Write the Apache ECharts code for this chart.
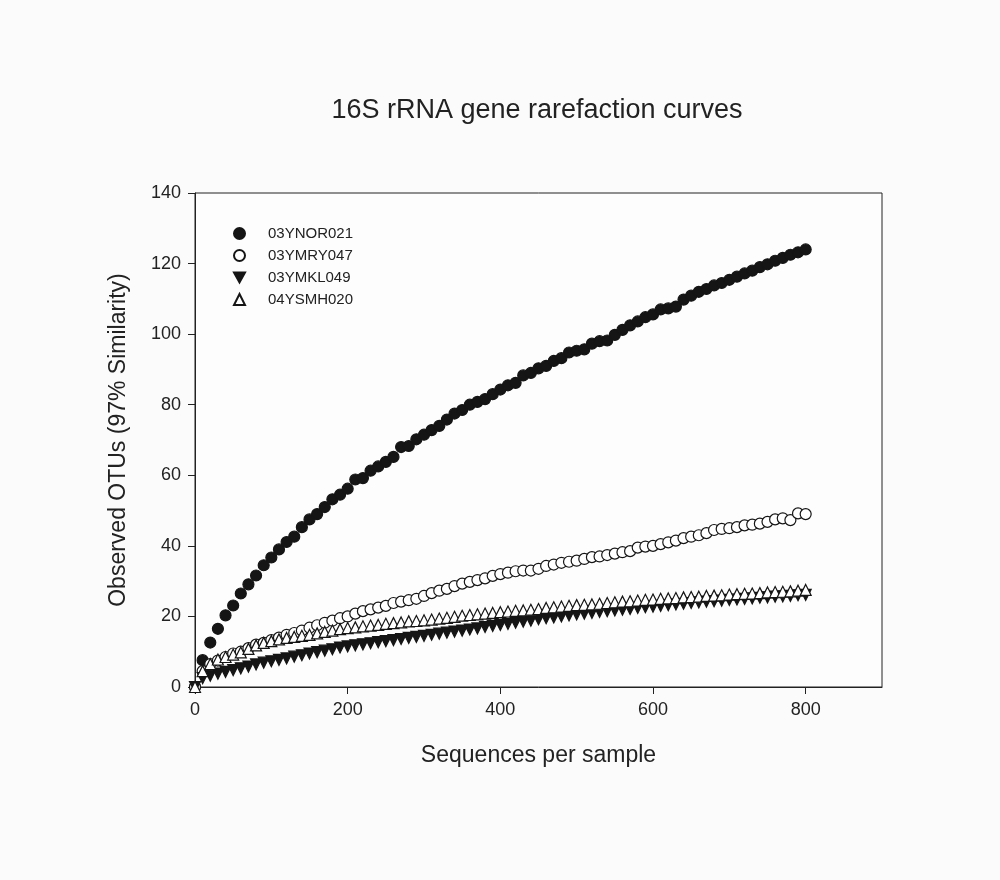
<!DOCTYPE html>
<html>
<head>
<meta charset="utf-8">
<title>16S rRNA gene rarefaction curves</title>
<script src="https://cdn.jsdelivr.net/npm/echarts@6/dist/echarts.min.js"></script>
<style>
  html, body { margin: 0; padding: 0; background: #fbfbfb; }
  #chart { width: 1000px; height: 880px; }
</style>
</head>
<body>
<div id="chart"></div>
<script>
// Sequences per sample (x positions shared by every curve)
const seqs = [];
for (let s = 0; s <= 800; s += 10) seqs.push(s);

const xTicks = [0, 200, 400, 600, 800];
const yTicks = [0, 20, 40, 60, 80, 100, 120, 140];

const sampleNames = ['03YNOR021', '03YMRY047', '03YMKL049', '04YSMH020'];

// Observed OTUs per sample, one value per step of 10 sequences
const otu03YNOR021 = [
  0, 7.6, 12.6, 16.5, 20.3, 23.1, 26.5, 29.1, 31.6, 34.5,
  36.7, 39.0, 41.1, 42.6, 45.3, 47.5, 49.0, 51.0, 53.2, 54.5,
  56.2, 58.8, 59.2, 61.3, 62.5, 63.8, 65.2, 68.0, 68.3, 70.2,
  71.5, 72.8, 74.0, 75.8, 77.5, 78.5, 80.0, 80.8, 81.6, 83.0,
  84.3, 85.5, 86.2, 88.3, 89.0, 90.3, 91.0, 92.4, 93.2, 94.8,
  95.3, 95.7, 97.3, 98.0, 98.2, 99.8, 101.2, 102.5, 103.6, 104.8,
  105.6, 107.0, 107.3, 107.8, 109.8, 110.9, 112.0, 112.8, 113.8, 114.5,
  115.4, 116.3, 117.2, 118.0, 119.0, 119.8, 120.8, 121.6, 122.5, 123.2,
  124.0
];
const otu03YMRY047 = [
  0, 4.5, 6.5, 7.5, 8.5, 9.5, 10.0, 11.0, 12.0, 12.5,
  13.3, 14.0, 14.8, 15.3, 16.0, 16.8, 17.5, 18.2, 18.8, 19.5,
  20.0, 20.8, 21.5, 22.0, 22.5, 23.0, 23.8, 24.2, 24.6, 25.0,
  25.8, 26.6, 27.3, 27.8, 28.6, 29.3, 29.8, 30.3, 30.8, 31.5,
  32.0, 32.4, 32.8, 33.0, 33.0, 33.5, 34.3, 34.7, 35.2, 35.5,
  35.8, 36.3, 36.8, 37.0, 37.4, 37.8, 38.2, 38.5, 39.5, 39.8,
  40.0, 40.5, 41.0, 41.5, 42.2, 42.6, 43.0, 43.6, 44.5, 44.8,
  45.0, 45.3, 45.8, 46.0, 46.3, 46.8, 47.5, 47.8, 47.3, 49.2,
  49.0
];
const otu03YMKL049 = [
  0, 2.5, 3.2, 3.8, 4.3, 4.8, 5.3, 5.8, 6.4, 6.9,
  7.3, 7.7, 8.1, 8.6, 9.0, 9.5, 9.9, 10.3, 10.7, 11.2,
  11.5, 11.8, 12.1, 12.4, 12.7, 13.0, 13.3, 13.6, 13.9, 14.2,
  14.5, 14.8, 15.1, 15.4, 15.7, 16.0, 16.3, 16.6, 17.0, 17.3,
  17.6, 17.9, 18.2, 18.5, 18.8, 19.2, 19.5, 19.7, 20.0, 20.3,
  20.6, 20.8, 21.0, 21.3, 21.5, 21.7, 21.9, 22.1, 22.4, 22.6,
  22.8, 23.0, 23.2, 23.4, 23.6, 23.8, 24.0, 24.2, 24.3, 24.5,
  24.7, 24.8, 25.0, 25.1, 25.3, 25.4, 25.6, 25.7, 25.8, 26.0,
  26.1
];
const otu04YSMH020 = [
  0, 4.5, 6.5, 7.8, 8.5, 9.2, 9.8, 10.8, 11.8, 12.5,
  13.0, 13.5, 13.9, 14.2, 14.5, 14.8, 15.2, 15.6, 16.0, 16.4,
  16.7, 16.9, 17.2, 17.4, 17.6, 17.9, 18.1, 18.3, 18.6, 18.7,
  18.9, 19.1, 19.4, 19.6, 19.9, 20.2, 20.4, 20.6, 20.8, 21.0,
  21.2, 21.4, 21.6, 21.7, 21.9, 22.1, 22.4, 22.6, 22.8, 23.0,
  23.2, 23.3, 23.4, 23.6, 23.8, 24.0, 24.2, 24.3, 24.5, 24.7,
  24.8, 25.0, 25.1, 25.2, 25.4, 25.5, 25.6, 25.8, 25.9, 26.0,
  26.2, 26.3, 26.4, 26.5, 26.6, 26.8, 26.9, 27.0, 27.1, 27.3,
  27.5
];

const ink = '#151515';
const font = '"Liberation Sans", Arial, sans-serif';
const downTriangle = 'path://M0,0 L10,0 L5,9 Z';

function pairs(values) {
  return seqs.map((s, i) => [s, values[i]]);
}

const markers = [
  { values: otu03YNOR021, symbol: 'circle', size: 11, fill: ink },
  { values: otu03YMRY047, symbol: 'circle', size: 11, fill: '#ffffff' },
  { values: otu03YMKL049, symbol: downTriangle, size: 11, fill: ink },
  { values: otu04YSMH020, symbol: 'triangle', size: 11, fill: '#ffffff' }
];

const chart = echarts.init(document.getElementById('chart'), null, { renderer: 'canvas' });

chart.setOption({
  backgroundColor: '#fbfbfb',
  animation: false,
  textStyle: { fontFamily: font, color: '#222' },
  title: {
    text: '16S rRNA gene rarefaction curves',
    left: 532,
    textAlign: 'center',
    top: 92,
    textStyle: { fontFamily: font, fontSize: 27, fontWeight: 'normal', color: '#222' }
  },
  legend: {
    orient: 'vertical',
    left: 228,
    top: 221,
    itemWidth: 11,
    itemHeight: 11,
    itemGap: 7,
    data: sampleNames,
    textStyle: { fontFamily: font, fontSize: 15, color: '#222', padding: [0, 0, 0, 18] }
  },
  grid: {
    left: 195,
    top: 193,
    right: 118,
    bottom: 193,
    show: true,
    backgroundColor: '#fdfdfd',
    borderColor: '#222',
    borderWidth: 1
  },
  xAxis: {
    type: 'value',
    min: 0,
    max: 900,
    interval: 200,
    name: 'Sequences per sample',
    nameLocation: 'middle',
    nameGap: 57,
    nameTextStyle: { fontFamily: font, fontSize: 23, color: '#222' },
    axisLine: { show: true, onZero: false, lineStyle: { color: '#222', width: 1 } },
    axisTick: { show: true, inside: false, length: 7, lineStyle: { color: '#222' } },
    axisLabel: {
      fontFamily: font, fontSize: 18, color: '#222', margin: 14,
      showMaxLabel: false,
      formatter: v => (xTicks.indexOf(v) >= 0 ? String(v) : '')
    },
    splitLine: { show: false }
  },
  yAxis: {
    type: 'value',
    min: 0,
    max: 140,
    interval: 20,
    name: 'Observed OTUs (97% Similarity)',
    nameLocation: 'middle',
    nameGap: 65,
    nameTextStyle: { fontFamily: font, fontSize: 23, color: '#222' },
    axisLine: { show: true, onZero: false, lineStyle: { color: '#222', width: 1 } },
    axisTick: { show: true, inside: false, length: 7, lineStyle: { color: '#222' } },
    axisLabel: {
      fontFamily: font, fontSize: 18, color: '#222', margin: 14,
      formatter: v => (yTicks.indexOf(v) >= 0 ? String(v) : '')
    },
    splitLine: { show: false }
  },
  series: markers.map((m, i) => ({
    name: sampleNames[i],
    type: 'scatter',
    symbol: m.symbol,
    symbolSize: m.size,
    data: pairs(m.values),
    itemStyle: { color: m.fill, borderColor: ink, borderWidth: 1.2, opacity: 1 },
    emphasis: { disabled: true },
    z: 2 + i
  }))
});
</script>
</body>
</html>
